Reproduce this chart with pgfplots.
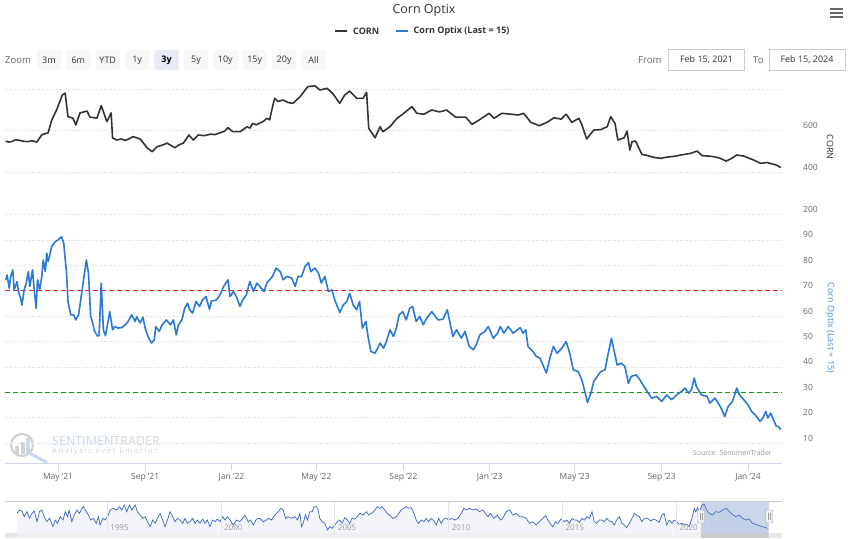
\documentclass[border=0pt]{standalone}
\usepackage{pgfplots}
\pgfplotsset{compat=1.18}
\usepackage{pgfplotstable}
\usepackage{fontspec}
\setmainfont{Open Sans}

\definecolor{cornc}{HTML}{333333}
\definecolor{optix}{HTML}{2A7AD5}
\definecolor{optixt}{HTML}{4A8AD8}
\definecolor{gridc}{HTML}{E6E6E6}
\definecolor{tickc}{HTML}{666666}
\definecolor{axisc}{HTML}{CCD6EB}
\definecolor{navline}{HTML}{3D63C0}
\definecolor{navfill}{HTML}{F3F5FB}
\definecolor{navmask}{HTML}{6685C2}
\definecolor{btn}{HTML}{F7F7F7}
\definecolor{btnsel}{HTML}{E6EBF5}
\definecolor{redl}{HTML}{FF1A1A}
\definecolor{greenl}{HTML}{119911}
\definecolor{lgray}{HTML}{CCCCCC}
\definecolor{mgray}{HTML}{999999}
\definecolor{wmblue}{HTML}{C8D8EC}
\definecolor{wmgray}{HTML}{D2D2D2}

% navigator: full history of the indicator (year, value)
\pgfplotstableread{
yr v
1991.04 61.4
1991.16 71.9
1991.26 68.7
1991.36 51.0
1991.48 66.7
1991.59 45.8
1991.70 61.4
1991.80 68.7
1991.92 35.4
1992.03 66.7
1992.13 71.9
1992.24 51.0
1992.35 35.4
1992.47 45.8
1992.62 19.8
1992.72 40.6
1992.82 30.2
1992.94 51.0
1993.06 40.6
1993.16 66.7
1993.26 51.0
1993.33 71.9
1993.45 35.4
1993.55 56.2
1993.67 71.9
1993.79 61.4
1993.89 77.1
1993.96 82.3
1994.08 66.7
1994.18 56.2
1994.28 40.6
1994.40 45.8
1994.52 30.2
1994.62 51.0
1994.69 25.0
1994.81 45.8
1994.91 40.6
1995.02 51.0
1995.13 71.9
1995.28 77.1
1995.42 71.9
1995.54 82.3
1995.64 71.9
1995.75 87.5
1995.86 66.7
1995.98 87.5
1996.08 71.9
1996.23 87.5
1996.33 66.7
1996.45 56.2
1996.56 45.8
1996.67 51.0
1996.77 35.4
1996.89 19.8
1997.00 40.6
1997.11 30.2
1997.21 45.8
1997.33 61.4
1997.44 40.6
1997.54 19.8
1997.65 40.6
1997.76 66.7
1997.88 51.0
1997.98 35.4
1998.09 45.8
1998.20 40.6
1998.32 30.2
1998.42 45.8
1998.52 30.2
1998.64 35.4
1998.76 45.8
1998.86 30.2
1998.96 40.6
1999.08 30.2
1999.20 43.7
1999.30 30.2
1999.40 40.6
1999.52 19.8
1999.63 40.6
1999.74 35.4
1999.84 43.7
1999.96 35.4
2000.07 51.0
2000.18 40.6
2000.28 51.0
2000.40 40.6
2000.54 25.0
2000.69 40.6
2000.83 35.4
2000.95 45.8
2001.05 56.2
2001.20 35.4
2001.30 40.6
2001.42 25.0
2001.56 43.7
2001.71 45.8
2001.86 35.4
2002.00 40.6
2002.08 45.8
2002.22 40.6
2002.37 56.2
2002.52 66.7
2002.63 77.1
2002.73 71.9
2002.84 45.8
2002.95 51.0
2003.10 45.8
2003.25 51.0
2003.36 40.6
2003.47 61.4
2003.54 19.8
2003.61 30.2
2003.71 56.2
2003.80 40.6
2003.90 66.7
2004.01 66.7
2004.09 82.3
2004.20 82.3
2004.27 71.9
2004.34 45.8
2004.45 35.4
2004.56 30.2
2004.68 9.4
2004.78 19.8
2004.88 14.6
2005.00 25.0
2005.12 35.4
2005.22 40.6
2005.32 30.2
2005.44 47.9
2005.56 40.6
2005.66 30.2
2005.76 45.8
2005.88 43.7
2005.99 51.0
2006.10 61.4
2006.24 56.2
2006.39 66.7
2006.49 56.2
2006.61 61.4
2006.76 71.9
2006.87 82.3
2006.97 77.1
2007.08 82.3
2007.19 71.9
2007.31 61.4
2007.41 56.2
2007.56 45.8
2007.71 51.0
2007.81 61.4
2007.92 71.9
2008.04 77.1
2008.14 82.3
2008.25 77.1
2008.36 79.2
2008.48 61.4
2008.58 40.6
2008.68 30.2
2008.80 40.6
2008.92 35.4
2009.02 45.8
2009.12 35.4
2009.24 45.8
2009.36 37.5
2009.46 25.0
2009.56 45.8
2009.68 30.2
2009.80 45.8
2009.90 45.8
2010.00 40.6
2010.12 45.8
2010.26 40.6
2010.41 45.8
2010.56 61.4
2010.67 77.1
2010.78 71.9
2010.92 77.1
2011.07 71.9
2011.21 75.0
2011.36 66.7
2011.51 71.9
2011.61 61.4
2011.73 51.0
2011.84 61.4
2011.99 45.8
2012.14 56.2
2012.28 40.6
2012.38 45.8
2012.53 66.7
2012.68 71.9
2012.82 56.2
2012.97 61.4
2013.11 51.0
2013.26 51.0
2013.41 45.8
2013.55 30.2
2013.70 35.4
2013.85 25.0
2013.99 35.4
2014.14 45.8
2014.26 54.1
2014.36 40.6
2014.46 30.2
2014.58 19.8
2014.69 35.4
2014.80 30.2
2014.94 43.7
2015.09 35.4
2015.19 40.6
2015.31 30.2
2015.42 45.8
2015.53 40.6
2015.63 40.6
2015.75 33.3
2015.86 45.8
2015.97 40.6
2016.07 51.0
2016.19 45.8
2016.30 66.7
2016.40 35.4
2016.51 30.2
2016.62 40.6
2016.74 40.6
2016.84 35.4
2016.95 45.8
2017.06 37.5
2017.18 35.4
2017.28 25.0
2017.38 40.6
2017.50 51.0
2017.62 30.2
2017.72 25.0
2017.82 16.6
2017.94 30.2
2018.06 45.8
2018.16 61.4
2018.26 56.2
2018.38 51.0
2018.49 35.4
2018.60 45.8
2018.74 45.8
2018.89 37.5
2018.99 43.7
2019.11 40.6
2019.25 33.3
2019.37 56.2
2019.47 61.4
2019.58 25.0
2019.69 40.6
2019.81 30.2
2019.91 40.6
2020.02 35.4
2020.13 27.1
2020.25 30.2
2020.35 25.0
2020.45 27.1
2020.57 19.8
2020.69 45.8
2020.79 77.1
2020.86 66.7
2020.94 79.2
2021.01 61.4
2021.13 87.5
2021.23 89.6
2021.33 71.9
2021.45 61.4
2021.59 56.2
2021.74 66.7
2021.89 64.6
2022.03 71.9
2022.21 77.1
2022.33 66.7
2022.47 58.3
2022.62 51.0
2022.76 56.2
2022.91 45.8
2023.06 40.6
2023.20 43.7
2023.35 30.2
2023.50 27.1
2023.64 22.9
2023.79 19.8
2023.93 16.6
2024.01 14.6
}\navdata

\pgfplotsset{
  panel/.style={
    scale only axis, width=777pt,
    xmin=0, xmax=1098,
    ymajorgrids,
    major grid style={gridc, line width=0.8pt, dash pattern=on 3pt off 1.5pt},
    ytick style={draw=none},
    yticklabel pos=right,
    yticklabel style={font=\fontsize{8.5}{10}\selectfont, text=tickc, anchor=west, inner sep=0pt, xshift=21pt, yshift=5pt},
    /pgf/number format/assume math mode=true,
    /pgf/number format/1000 sep={},
  },
}

\begin{document}
\begin{tikzpicture}[x=1pt,y=1pt]
\path[use as bounding box] (0,0) rectangle (848,538);
\fill[white] (0,0) rectangle (848,538);

% title, legend, menu
\node[font=\fontsize{12.5}{14}\selectfont, text=cornc] at (424,528) {Corn Optix};
\draw[cornc, line width=2pt] (335,507) -- (347,507);
\node[anchor=west, inner sep=0pt, font=\fontsize{9}{10}\selectfont\bfseries, text=cornc] at (353,507) {CORN};
\draw[optix, line width=2pt] (396,507) -- (408,507);
\node[anchor=west, inner sep=0pt, font=\fontsize{9}{10}\selectfont\bfseries, text=cornc] at (413.5,507) {Corn Optix (Last = 15)};
\foreach \yy in {529,525,520.5} \draw[tickc, line width=2pt] (830,\yy) -- (843,\yy);

% range selector
\node[anchor=west, inner sep=0pt, font=\fontsize{9.5}{11}\selectfont, text=tickc] at (5,478) {Zoom};
\foreach \lab/\bx in {3m/36.8, 6m/66.2, YTD/95.6, 1y/125, 5y/183.8, 10y/213.2, 15y/242.6, 20y/272, All/301.4} {
  \fill[btn, rounded corners=2pt] (\bx,468) rectangle ++(24.3,20);
  \node[font=\fontsize{9}{10}\selectfont, text=cornc] at (\bx+12.15,478) {\lab};
}
\fill[btnsel, rounded corners=2pt] (154.4,468) rectangle ++(24.3,20);
\node[font=\fontsize{9}{10}\selectfont\bfseries, text=black] at (166.55,478) {3y};
\node[anchor=west, inner sep=0pt, font=\fontsize{9.5}{11}\selectfont, text=tickc] at (638,478) {From};
\draw[lgray, fill=white] (668.5,467.5) rectangle (744.5,488.5);
\node[font=\fontsize{9}{10}\selectfont, text=cornc] at (706.5,478) {Feb 15, 2021};
\node[anchor=west, inner sep=0pt, font=\fontsize{9.5}{11}\selectfont, text=tickc] at (753,478) {To};
\draw[lgray, fill=white] (769.5,467.5) rectangle (845,488.5);
\node[font=\fontsize{9}{10}\selectfont, text=cornc] at (807,478) {Feb 15, 2024};

% watermark
\draw[wmgray, line width=2.2pt] (22,93) circle (11);
\fill[wmgray] (15,84) rectangle (19,92);
\fill[wmgray] (20.5,84) rectangle (24.5,96);
\fill[wmblue] (26,84) rectangle (30,100);
\draw[wmblue, line width=3pt, line cap=round] (31,84) -- (46,76);
\node[anchor=west, inner sep=0pt, font=\fontsize{12.5}{14}\selectfont] at (52,97) {\textcolor{wmblue}{SENTIMEN}\textcolor{wmgray}{TRADER}};
\node[anchor=west, inner sep=0pt, font=\fontsize{7.5}{9}\selectfont\addfontfeature{LetterSpace=22}, text=wmgray] at (52,86) {Analysis over Emotion};
\node[anchor=east, inner sep=0pt, font=\fontsize{7}{8}\selectfont, text=mgray] at (772,85) {Source: SentimenTrader};

% axis titles
\node[rotate=-90, font=\fontsize{9}{10}\selectfont, text=cornc] at (830,391) {CORN};
\node[rotate=-90, font=\fontsize{9}{10}\selectfont, text=optixt] at (830,210) {Corn Optix (Last = 15)};

% upper panel: CORN
\begin{axis}[panel, at={(5pt,324pt)}, anchor=south west, height=134pt,
  ymin=200, ymax=843, axis line style={draw=none}, xtick=\empty,
  ytick={200,400,600,800}, yticklabels={200,400,600,{}}]
\addplot[cornc, line width=1.6pt, line join=round] coordinates {
(1,550) (5,545) (10,548) (15,556) (21,553) (26,549) (32,547) (38,552) (45,545)
(52,580) (61,590) (66,650) (73,700) (81,771) (85,780) (89,667) (96,660) (100,627)
(106,685) (116,694) (120,665) (130,660) (136,720) (144,643) (150,685) (152,565)
(158,555) (164,560) (170,553) (176,562) (181,571) (191,560) (201,517) (208,499) (215,523)
(222,530) (229,540) (235,528) (240,518) (246,532) (252,540) (260,579) (266,555) (273,579)
(282,576) (290,583) (297,581) (304,590) (310,597)
(315,614) (322,595) (332,595) (337,606) (342,619) (346,612) (350,635) (355,628) (360,636)
(365,644) (370,659) (374,652) (377,699)
(381,755) (386,740) (393,747) (400,735) (407,731) (417,763) (428,811) (438,815) (445,795)
(455,803) (463,779) (473,731) (480,771) (487,790) (497,755) (506,755) (511,784)
(514,611) (523,566) (530,619) (534,595) (544,619) (554,659) (562,679) (575,715)
(582,683) (592,679) (603,699) (614,690) (624,699) (637,664) (651,665) (660,630) (670,651)
(684,683) (691,659) (702,683) (715,679) (725,675) (733,683) (743,640) (755,624) (766,640)
(776,662) (786,655) (793,679) (801,640) (811,659) (815,630) (822,560) (832,603)
(842,605) (851,619) (856,667) (862,635) (866,555) (875,566) (879,598) (883,507)
(886,547) (891,550) (900,486) (906,482) (913,475) (920,470) (927,467) (934,472) (941,475)
(948,478) (955,483) (962,487) (969,491)
(978,502) (985,480) (994,478) (1002,475) (1010,468) (1019,454) (1027,467) (1034,483) (1044,478)
(1051,468) (1058,459) (1068,443) (1077,447) (1083,441) (1087,438) (1092,432) (1096,422)
};
\end{axis}

% lower panel: Corn Optix
\begin{axis}[panel, at={(5pt,75pt)}, anchor=south west, height=249pt,
  ymin=2.2, ymax=100.2, ytick={10,20,...,90},
  axis x line*=bottom, axis y line*=right,
  x axis line style={draw=axisc, line width=0.8pt, -},
  y axis line style={draw=none},
  xtick={75,198,320,440,563,685,805,928,1050},
  xticklabels={May '21, Sep '21, Jan '22, May '22, Sep '22, Jan '23, May '23, Sep '23, Jan '24},
  xtick align=outside, major tick length=7pt,
  xtick style={draw=axisc, line width=0.8pt},
  xticklabel style={font=\fontsize{8.5}{10}\selectfont, text=tickc}]
\addplot[redl, line width=1.3pt, dash pattern=on 5pt off 3pt] coordinates {(0,70) (1098,70)};
\addplot[greenl, line width=1.3pt, dash pattern=on 5pt off 3pt] coordinates {(0,30) (1098,30)};
\addplot[optix, line width=1.6pt, line join=round] coordinates {
(1,74.3) (3,76.2) (6,71) (8,75.6) (11,78.2) (13,70.3) (17,73.6) (19,69.7) (22,67.1)
(24,64.4) (27,70.3) (30,73) (33,77.5) (35,71.7) (39,78.2) (41,71) (44,63.1) (46,74.3)
(49,70.3) (52,75.6) (54,82.1) (57,77.5) (59,84.8) (61,81.5) (66,87.4) (71,89.3)
(75,90) (80,91.3) (83,88.7) (87,76.9) (89,65.8) (93,60.5) (97,60.5) (100,58.5)
(104,60.5) (107,66.4) (111,74.3) (115,82.1) (118,76.9) (121,59.9) (124,57.2)
(126,54.6) (130,52.3) (133,52.3) (136,73) (139,54.6) (142,52.3) (146,58.5) (148,61.8)
(152,54.6) (155,55.9) (160,55.3) (165,55.5) (170,56.6) (174,57.9) (179,60.5)
(184,57.9) (186,59.8) (191,57.3) (195,59.6) (198,55.3) (202,52) (207,49.4) (211,50.7)
(213,55.9) (218,54) (222,56.6) (228,58.5) (234,56.6) (238,58.5) (242,52.6) (245,56.6)
(250,58.5) (254,63.1) (258,65.1) (261,62.5) (265,61.2) (270,65.8) (275,63.8)
(279,66.4) (284,67.7) (289,62.7) (292,66.1) (297,66.1) (301,67.1) (305,69) (309,71.7)
(315,74.3) (318,67.7) (323,69.7) (327,67.7) (332,63.8) (336,66.4) (341,68.4)
(346,73.6) (351,69.7) (356,73) (360,71.7) (366,69.7) (370,73) (374,74.3) (378,75.6)
(383,78.9) (389,77.5) (393,74.3) (398,75.6) (405,75) (410,71.7) (414,75.6) (419,75.6)
(424,79.5) (429,81.1) (432,77.5) (438,78.9) (443,76.9) (447,73) (452,75.6) (457,69.7)
(462,70.3) (466,66.4) (473,61.4) (478,64.4) (483,65.8) (487,69) (492,64.4) (497,62.5)
(501,65.8) (505,55.3) (510,57.9) (513,52) (517,46.1) (523,45.4) (530,49.4) (535,47.4)
(539,50) (544,54.6) (549,52) (553,55.3) (557,60.5) (562,61.8) (567,58.5) (572,63.1)
(576,63.8) (581,57.9) (586,59.9) (591,56.6) (596,59.2) (603,61.8) (608,59.9)
(612,58.5) (619,58.8) (625,62.5) (629,57.2) (633,52) (638,54.6) (645,51.3) (650,54)
(656,48.1) (662,46.8) (666,48.8) (671,52.6) (678,54) (683,55.9) (690,51.3) (696,53.3)
(700,55.9) (705,53.3) (711,55.9) (718,53.3) (724,54.6) (728,55.5) (732,53.3)
(736,54.6) (739,48.1) (746,46.1) (751,44.1) (756,43.5) (761,40.2) (765,37.6)
(770,43.5) (775,48.1) (780,45.4) (787,47.4) (793,50) (798,45.4) (803,38.9) (810,38.2)
(815,35) (820,29.7) (823,26) (828,29.7) (832,34.3) (837,36.3) (842,38.2) (848,38.9)
(852,44.8) (857,51.3) (860,47.4) (865,40.8) (871,41.5) (876,40.2) (881,33.6)
(885,36.3) (892,36.9) (897,35) (903,32.3) (909,29.7) (914,27.7) (921,28.4) (928,26.4)
(935,29) (942,27.1) (949,29) (956,30.4) (961,31.7) (966,29.7) (970,31) (974,35.6)
(977,32.3) (984,29) (992,28.4) (996,25.8) (1003,27.7) (1008,25.8) (1013,23.2)
(1017,20.5) (1022,24.5) (1028,26.4) (1034,31.7) (1038,29) (1044,27.1) (1050,25.1)
(1055,22.5) (1060,21.2) (1067,18.6) (1071,19.9) (1075,22.5) (1078,19.9) (1082,21.8)
(1086,19.2) (1090,16.6) (1093,16.6) (1096,15.3)
};
\end{axis}

% navigator
\begin{axis}[scale only axis, at={(17pt,5pt)}, anchor=south west, width=753pt, height=32pt,
  xmin=1991.04, xmax=2024.12, ymin=0, ymax=100,
  axis on top,
  axis line style={draw=none}, ytick=\empty,
  xtick={1995,2000,...,2020}, xmajorgrids,
  major grid style={gridc, line width=0.8pt},
  xtick style={draw=none},
  xticklabel style={font=\fontsize{8}{9}\selectfont, text=mgray, anchor=base west, inner sep=0pt, xshift=3pt, yshift=3pt},
  /pgf/number format/assume math mode=true,
  /pgf/number format/1000 sep={}]
\addplot[draw=none, fill=navfill] table[x=yr, y=v] {\navdata} \closedcycle;
\addplot[navline, line width=0.7pt] table[x=yr, y=v] {\navdata};
\end{axis}
\fill[navmask, opacity=0.33] (701,5) rectangle (769,37);
\draw[lgray, line width=0.8pt] (5,37) -- (782,37);
\fill[gridc!60] (5,0.3) rectangle (782,4.7);
\fill[gridc] (5,0.3) rectangle (17,4.7);
\fill[gridc] (770,0.3) rectangle (782,4.7);
\fill[lgray] (701,0.3) rectangle (769,4.7);
\foreach \hx in {701,769} {
  \draw[mgray, fill=gridc!50, rounded corners=1pt] (\hx-3.5,15) rectangle (\hx+3.5,28);
  \draw[mgray] (\hx-1,18) -- (\hx-1,25);
  \draw[mgray] (\hx+1,18) -- (\hx+1,25);
}
\end{tikzpicture}
\end{document}
